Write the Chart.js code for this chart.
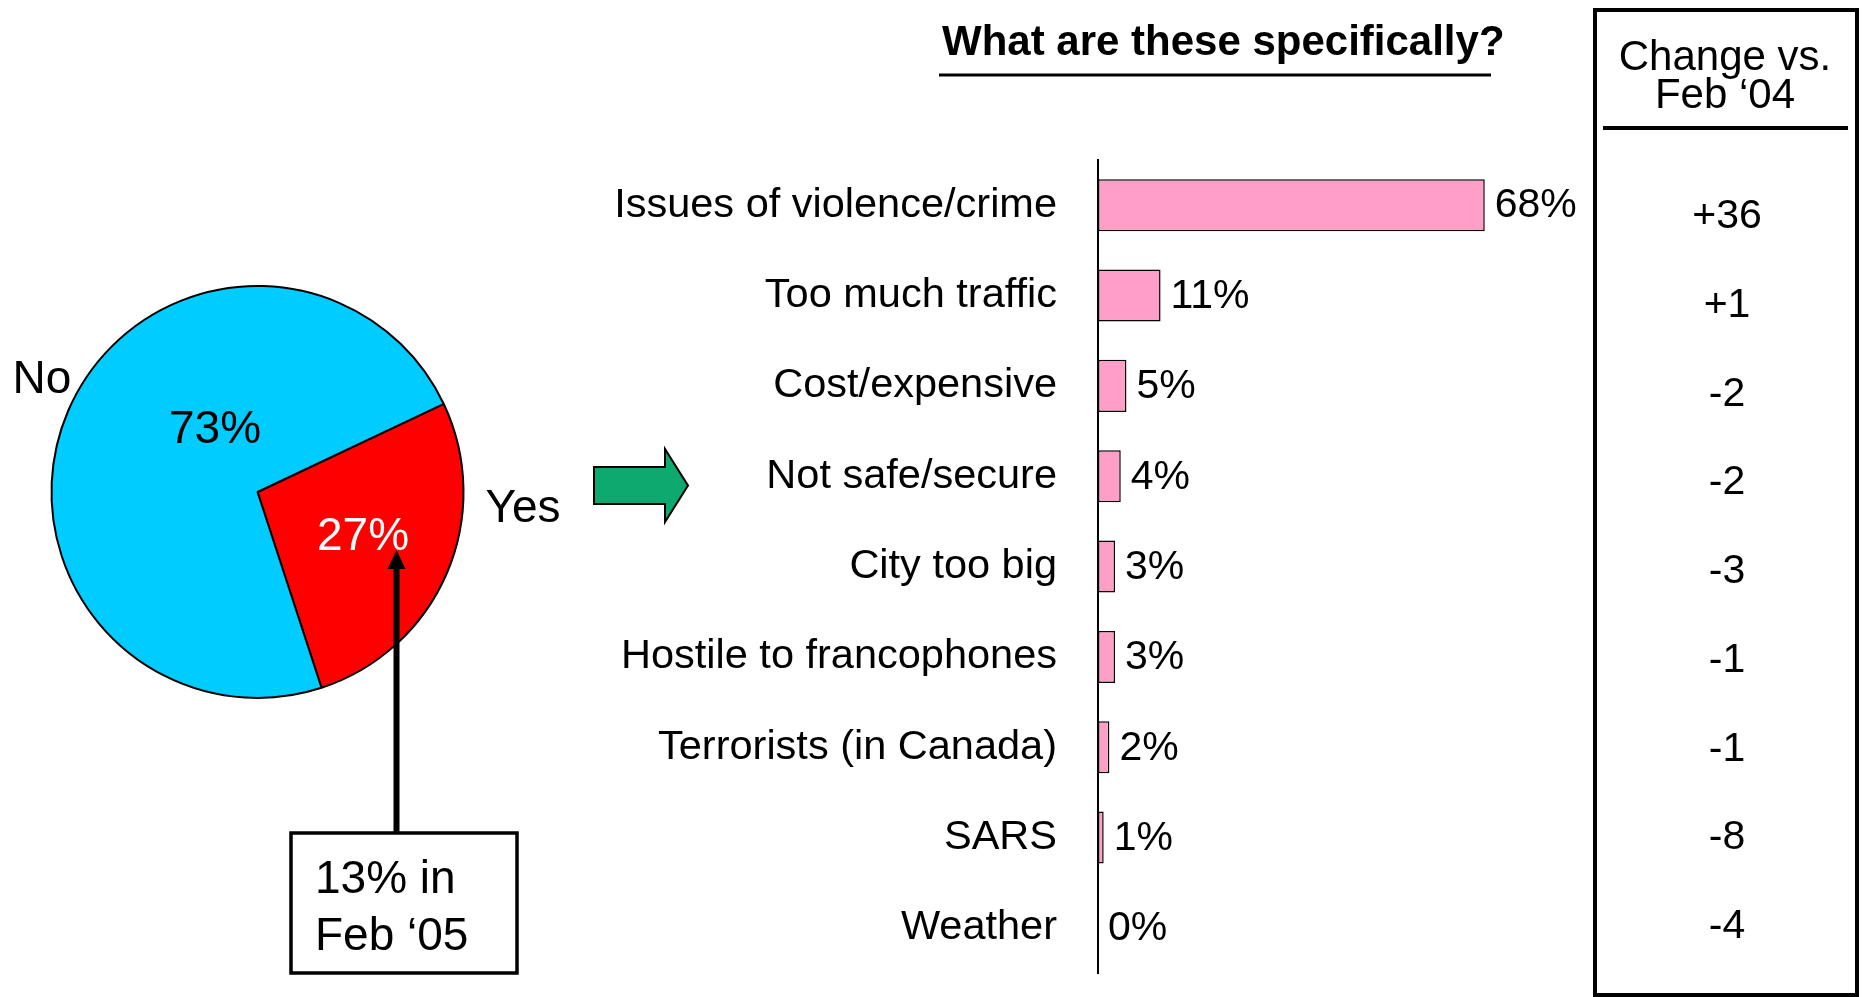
<!DOCTYPE html>
<html>
<head>
<meta charset="utf-8">
<script src="https://cdn.jsdelivr.net/npm/chart.js@4.4.1/dist/chart.umd.min.js"></script>
<style>
  html, body { margin: 0; padding: 0; background: #fff; }
  body { width: 1862px; height: 997px; position: relative; overflow: hidden; }
  #pieBox { position: absolute; left: 0; top: 0; width: 700px; height: 997px; }
  /* taller than the page: the y axis reserves room under the last label */
  #barBox { position: absolute; left: 600px; top: 0; width: 1262px; height: 1039px; }
</style>
</head>
<body>
<div id="barBox"><canvas id="bars"></canvas></div>
<div id="pieBox"><canvas id="pie"></canvas></div>
<script>
const FONT = '"Liberation Sans", Arial, Helvetica, sans-serif';

// pie: is there anything you dislike about the city?
const pieLabels = ['Yes', 'No'];
const pieValues = [27, 73];
const pieColors = ['#ff0000', '#00ccff'];
const lastYearNote = ['13% in', 'Feb \u201805'];

// bars: what are these specifically?
const reasons = [
  'Issues of violence/crime',
  'Too much traffic',
  'Cost/expensive',
  'Not safe/secure',
  'City too big',
  'Hostile to francophones',
  'Terrorists (in Canada)',
  'SARS',
  'Weather'
];
const reasonValues = [68, 11, 5, 4, 3, 3, 2, 1, 0];
const changeVsFeb04 = ['+36', '+1', '-2', '-2', '-3', '-1', '-1', '-8', '-4'];
const barTitle = 'What are these specifically?';
const changeHeader = ['Change vs.', 'Feb \u201804'];

// slice labels and the callout next to the pie
const pieExtras = {
  id: 'pieExtras',
  afterDraw(chart) {
    const ctx = chart.ctx;
    const arc = chart.getDatasetMeta(0).data[0];
    const cx = arc.x, cy = arc.y;
    // offsets from the pie centre: [value label, name label]
    const spots = [
      { val: [105.5, 58], name: [265.5, 30], valColor: '#fff' },
      { val: [-42.5, -49], name: [-215.5, -99], valColor: '#000' }
    ];
    ctx.save();
    ctx.font = '46px ' + FONT;
    ctx.textAlign = 'center';
    ctx.textBaseline = 'alphabetic';
    pieValues.forEach((v, i) => {
      const s = spots[i];
      ctx.fillStyle = s.valColor;
      ctx.fillText(v + '%', cx + s.val[0], cy + s.val[1]);
      ctx.fillStyle = '#000';
      ctx.fillText(pieLabels[i], cx + s.name[0], cy + s.name[1]);
    });

    // callout arrow up into the Yes slice
    const ax = 396.5;
    ctx.strokeStyle = '#000';
    ctx.lineWidth = 6;
    ctx.beginPath();
    ctx.moveTo(ax, 834);
    ctx.lineTo(ax, 565);
    ctx.stroke();
    ctx.fillStyle = '#000';
    ctx.beginPath();
    ctx.moveTo(ax, 550);
    ctx.lineTo(ax - 9, 569);
    ctx.lineTo(ax + 9, 569);
    ctx.closePath();
    ctx.fill();

    // note box
    ctx.lineWidth = 3.5;
    ctx.fillStyle = '#fff';
    ctx.fillRect(291, 833, 226, 140);
    ctx.strokeRect(291, 833, 226, 140);
    ctx.fillStyle = '#000';
    ctx.textAlign = 'left';
    ctx.fillText(lastYearNote[0], 315, 893);
    ctx.fillText(lastYearNote[1], 315, 950);

    // green block arrow pointing at the breakdown
    ctx.beginPath();
    ctx.moveTo(594, 467);
    ctx.lineTo(665, 467);
    ctx.lineTo(665, 449);
    ctx.lineTo(688, 485.5);
    ctx.lineTo(665, 522);
    ctx.lineTo(665, 504);
    ctx.lineTo(594, 504);
    ctx.closePath();
    ctx.fillStyle = '#0ea96f';
    ctx.fill();
    ctx.lineWidth = 2;
    ctx.strokeStyle = '#000';
    ctx.stroke();
    ctx.restore();
  }
};

new Chart(document.getElementById('pie'), {
  type: 'pie',
  data: {
    labels: pieLabels,
    datasets: [{
      data: pieValues,
      backgroundColor: pieColors,
      borderColor: '#000',
      borderWidth: 2,
      hoverBorderWidth: 2,
      hoverOffset: 0
    }]
  },
  options: {
    responsive: true,
    maintainAspectRatio: false,
    animation: false,
    rotation: 64.7,
    layout: { padding: { left: 50.5, right: 235.5, top: 285, bottom: 298 } },
    plugins: { legend: { display: false }, tooltip: { enabled: false } }
  },
  plugins: [pieExtras]
});

// value labels, title and the change column
const barExtras = {
  id: 'barExtras',
  afterDatasetsDraw(chart) {
    const ctx = chart.ctx;
    const meta = chart.getDatasetMeta(0);
    ctx.save();
    ctx.font = '41px ' + FONT;
    ctx.fillStyle = '#000';
    ctx.textAlign = 'left';
    ctx.textBaseline = 'middle';
    meta.data.forEach((bar, i) => {
      ctx.fillText(reasonValues[i] + '%', bar.x + 10, bar.y + 1);
    });
    ctx.restore();
  },
  afterDraw(chart) {
    const ctx = chart.ctx;
    const ox = 600;
    ctx.save();
    ctx.fillStyle = '#000';
    ctx.strokeStyle = '#000';
    ctx.textBaseline = 'alphabetic';

    ctx.font = 'bold 42px ' + FONT;
    ctx.textAlign = 'left';
    ctx.fillText(barTitle, 942 - ox, 55);
    ctx.lineWidth = 3;
    ctx.beginPath();
    ctx.moveTo(939 - ox, 75);
    ctx.lineTo(1491 - ox, 75);
    ctx.stroke();

    // change column frame
    ctx.lineWidth = 4;
    ctx.strokeRect(1595 - ox, 10, 262, 985);
    ctx.beginPath();
    ctx.moveTo(1603 - ox, 128);
    ctx.lineTo(1848 - ox, 128);
    ctx.stroke();

    ctx.font = '42px ' + FONT;
    ctx.textAlign = 'center';
    ctx.fillText(changeHeader[0], 1725 - ox, 70);
    ctx.fillText(changeHeader[1], 1725 - ox, 108);

    ctx.font = '41px ' + FONT;
    changeVsFeb04.forEach((t, i) => {
      ctx.fillText(t, 1727 - ox, 228 + i * 88.75);
    });
    ctx.restore();
  }
};

new Chart(document.getElementById('bars'), {
  type: 'bar',
  data: {
    labels: reasons,
    datasets: [{
      data: reasonValues,
      backgroundColor: '#ff9fc7',
      borderColor: '#000',
      borderWidth: ctx => (ctx.raw > 0 ? 1.5 : 0),
      borderSkipped: false,
      barPercentage: 0.576,
      categoryPercentage: 1
    }]
  },
  options: {
    indexAxis: 'y',
    responsive: true,
    maintainAspectRatio: false,
    animation: false,
    layout: { padding: { left: 0, right: 309, top: 160, bottom: 24 } },
    scales: {
      x: { display: false, min: 0, max: 80 },
      y: {
        afterFit(scale) { scale.width = 498; },
        grid: { display: false, drawTicks: false },
        border: { display: true, color: '#000', width: 2 },
        ticks: {
          color: '#000',
          padding: 41,
          font: { family: FONT, size: 41.5 }
        }
      }
    },
    plugins: { legend: { display: false }, tooltip: { enabled: false } }
  },
  plugins: [barExtras]
});
</script>
</body>
</html>
